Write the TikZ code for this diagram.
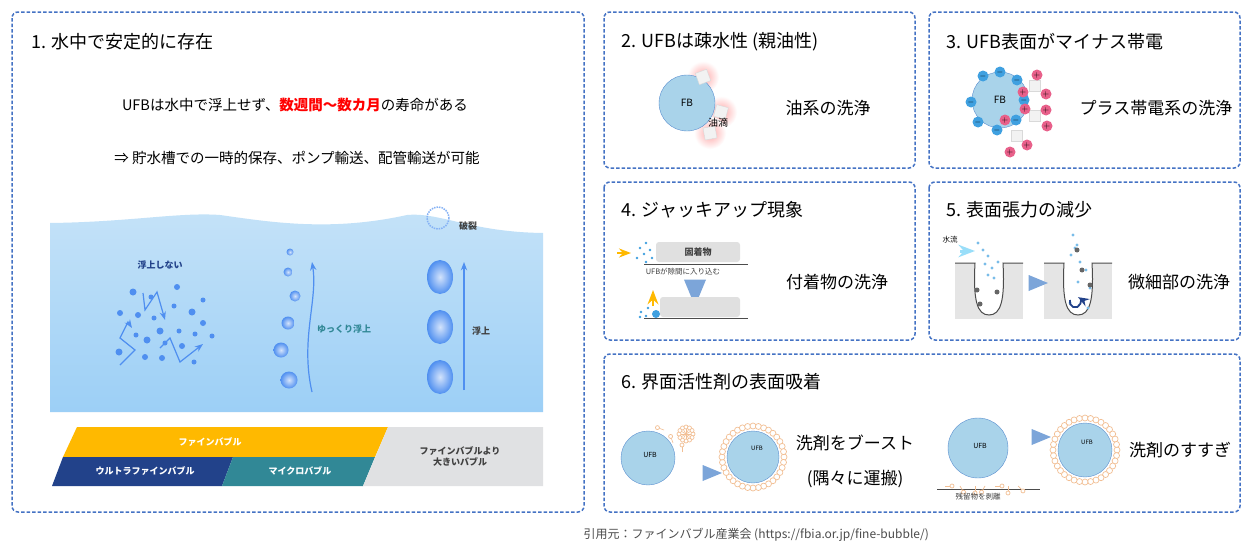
\documentclass[tikz,border=0pt]{standalone}
\usepackage{fontspec}
\setmainfont{Noto Sans CJK JP}
\usetikzlibrary{positioning,shapes.geometric,arrows.meta}
\definecolor{frameblue}{HTML}{4472C4}
\definecolor{fbblue}{HTML}{A9D3EA}
\definecolor{fbedge}{HTML}{5B8FD0}
\definecolor{surf}{HTML}{F2BF94}
\definecolor{minusc}{HTML}{3FA0E0}
\definecolor{plusc}{HTML}{E8608A}
\definecolor{barY}{HTML}{FFB900}
\definecolor{barN}{HTML}{22428A}
\definecolor{barT}{HTML}{318896}
\definecolor{barG}{HTML}{E0E1E3}
\definecolor{dropc}{HTML}{4F8FF0}
\definecolor{waterT}{HTML}{C4E2F8}
\definecolor{waterB}{HTML}{9CCFF6}
\tikzset{
  panel/.style={draw=frameblue, dash pattern=on 3.5pt off 2pt, line width=1.5pt, rounded corners=6pt},
  heading/.style={anchor=west, font=\fontsize{18}{20}\selectfont},
  effect/.style={font=\fontsize{17}{20}\selectfont},
  small/.style={font=\fontsize{9}{11}\selectfont\bfseries, text=black!75},
  fb/.style={circle, draw=fbedge, fill=fbblue, inner sep=0pt},
  ring/.style={draw=surf, fill=white, line width=0.7pt},
  nextstep/.style={isosceles triangle, fill=fbedge!80, inner sep=0pt, minimum width=16pt, minimum height=9pt},
  ufb/.style={inner color=dropc!25, outer color=dropc, circle, inner sep=0pt},
  charge/.style={circle, inner sep=0pt, minimum size=11pt, font=\fontsize{8}{8}\selectfont\bfseries}
}
\begin{document}
\begin{tikzpicture}[x=1pt, y=-1pt, >=Stealth]
\useasboundingbox (0,0) rectangle (1258,554);
\fill[white] (0,0) rectangle (1258,554);

% frames
\draw[panel] (12,12) rectangle (584,512);
\draw[panel] (604,12) rectangle (915,168);
\draw[panel] (929,12) rectangle (1240,168);
\draw[panel] (604,182) rectangle (915,340);
\draw[panel] (929,182) rectangle (1240,340);
\draw[panel] (604,354) rectangle (1240,512);

% headings
\node[heading] (h1) at (28,42) {1. 水中で安定的に存在};
\node[heading] (h2) at (618,42) {2. UFBは疎水性 (親油性)};
\node[heading] (h3) at (943,42) {3. UFB表面がマイナス帯電};
\node[heading] (h4) at (618,210) {4. ジャッキアップ現象};
\node[heading] (h5) at (943,210) {5. 表面張力の減少};
\node[heading] (h6) at (618,382) {6. 界面活性剤の表面吸着};

% panel 1 texts
\node[font=\fontsize{14.5}{16}\selectfont] (life) at (295,105)
  {UFBは水中で浮上せず、\textcolor{red}{\bfseries 数週間～数カ月}の寿命がある};
\node[font=\fontsize{14.5}{16}\selectfont] (use) at (297,158)
  {⇒ 貯水槽での一時的保存、ポンプ輸送、配管輸送が可能};

% water
\shade[top color=waterT, middle color=white, bottom color=waterB]
  (50,223) .. controls (130,222) and (180,212) .. (220,215)
  .. controls (270,222) and (330,232) .. (407,215)
  .. controls (440,212) and (470,232) .. (543,233) -- (543,412) -- (50,412) -- cycle;

% not rising
\node[small, text=barN] (stay) at (160,265) {浮上しない};
\foreach \p/\s in {{(133,292)}/3.5,{(151,297)}/2.5,{(177,287)}/3,{(203,300)}/2.5,{(120,313)}/3,{(138,315)}/3,{(154,318)}/2.5,{(174,306)}/2.5,{(192,312)}/3.5,{(203,323)}/3,{(160,331)}/3.5,{(136,335)}/2.5,{(147,340)}/3.5,{(179,331)}/2.5,{(195,334)}/2.5,{(212,336)}/2.5,{(119,352)}/3.5,{(145,357)}/3,{(162,358)}/3,{(182,346)}/3,{(194,362)}/2.5,{(165,343)}/2.5}
  \fill[dropc] \p circle (\s);
\draw[->, dropc, line width=1.2pt] (120,365) -- (135,350) -- (120,338) -- (128,322) -- (132,328);
\draw[->, dropc, line width=1.2pt] (143,293) -- (145,310) -- (157,292) -- (165,320);
\draw[->, dropc, line width=1.2pt] (160,348) -- (170,338) -- (180,362) -- (203,344);

% slow rise
\foreach \p/\s in {{(290,252)}/3.5,{(288,272)}/4.5,{(295,296)}/5.5,{(288,323)}/6.5,{(281,350)}/7.5,{(289,380)}/8.5}
  \node[ufb, minimum size=2*\s pt] at \p {};
\draw[->, dropc, line width=1.2pt] (312,392) .. controls (300,340) and (318,300) .. (312,262);
\node[small, text=barT] (slow) at (344,329) {ゆっくり浮上};

% rise
\foreach \y in {277,327,377}
  \node[ufb, ellipse, minimum width=26pt, minimum height=34pt] at (440,\y) {};
\draw[->, dropc, line width=1.2pt] (464,390) -- (464,262);
\node[small] (rise) at (481,331) {浮上};
\draw[dropc!70, densely dotted, line width=1.5pt] (438,218) circle (11);
\node[small] (burst) at (468,226) {破裂};

% size bars
\fill[barY] (77,427) -- (388,427) -- (375,457) -- (63,457) -- cycle;
\fill[barN] (63,457) -- (233,457) -- (222,486) -- (52,486) -- cycle;
\fill[barT] (233,457) -- (375,457) -- (363,486) -- (222,486) -- cycle;
\fill[barG] (388,427) -- (543,427) -- (543,486) -- (363,486) -- cycle;
\node[small, text=white] (fine) at (210,442) {ファインバブル};
\node[small, text=white] (ultra) at (145,471) {ウルトラファインバブル};
\node[small, text=white] (micro) at (300,471) {マイクロバブル};
\node[small, align=center] (large) at (460,456) {ファインバブルより\\大きいバブル};

% panel 2
\foreach \p in {(703,77),(721,112),(710,133)}
  \shade[inner color=red!35, outer color=white] \p circle (16);
\node[fb, minimum size=56pt] (fb2) at (687,103) {};
\node[font=\fontsize{10}{10}\selectfont] at (fb2.center) {FB};
\foreach \p/\a in {{(703,77)}/20,{(721,112)}/-15,{(710,133)}/10}
  \node[draw=black!15, fill=black!5, minimum size=12pt, rotate=\a] at \p {};
\node[font=\fontsize{10}{10}\selectfont] (drop) at (718,123) {油滴};
\node[effect] (oil) at (828,108) {油系の洗浄};

% panel 3
\node[fb, minimum size=56pt] (fb3) at (1000,100) {};
\node[font=\fontsize{10}{10}\selectfont] at (fb3.center) {FB};
\foreach \p in {(1035,86),(1035,116),(1017,136)}
  \node[draw=black!15, fill=black!5, minimum size=11pt] at \p {};
\foreach \p in {(983,76),(1000,72),(1017,80),(971,102),(978,122),(997,130),(1016,120),(1024,100)}
  \node[charge, fill=minusc] at \p {$-$};
\foreach \p in {(1037,75),(1023,92),(1046,94),(1025,109),(1046,110),(1005,120),(1047,126),(1027,145),(1010,152)}
  \node[charge, fill=plusc] at \p {$+$};
\node[effect] (plus) at (1156,108) {プラス帯電系の洗浄};

% panel 4
\node[fill=black!12, rounded corners=3pt, minimum width=84pt, minimum height=20pt, small] (stuck) at (698,252) {固着物};
\draw[black!70, line width=1pt] (644,264) -- (748,264);
\node[small, font=\fontsize{7.5}{8}\selectfont] (gap) at (683,272) {UFBが隙間に入り込む};
\draw[->, barY, line width=2pt] (617,253) -- (631,253);
\foreach \p in {(640,248),(646,243),(644,254),(650,250),(637,258),(652,258),(646,262)}
  \fill[minusc] \p circle (1.3);
\node[nextstep, shape border rotate=270, minimum width=22pt] (down) at (695,287) {};
\node[fill=black!12, rounded corners=3pt, minimum width=80pt, minimum height=20pt] (lifted) at (700,307) {};
\draw[black!70, line width=1pt] (644,318) -- (748,318);
\draw[->, barY, line width=2.5pt] (653,306) -- (653,290);
\fill[minusc] (656,314) circle (4);
\foreach \p in {(641,312),(646,316),(648,308),(640,317)}
  \fill[minusc] \p circle (1.3);
\node[effect] (stick) at (837,282) {付着物の洗浄};

% panel 5
\node[font=\fontsize{7.5}{8}\selectfont] (flow) at (950,240) {水流};
\foreach \x/\c in {955/0,1044/1}{
  \fill[black!10] (\x,263) rectangle ++(68,56);
  \fill[white] (\x+20,263) .. controls (\x+18,300) and (\x+22,315) .. (\x+34,315)
    .. controls (\x+46,315) and (\x+50,300) .. (\x+48,263) -- cycle;
  \draw[black!70, line width=1pt] (\x,263) -- (\x+20,263) .. controls (\x+18,300) and (\x+22,315) .. (\x+34,315)
    .. controls (\x+46,315) and (\x+50,300) .. (\x+48,263) -- (\x+68,263);
}
\draw[->, cyan!40, line width=3pt] (960,251) -- (975,251);
\foreach \p in {(978,243),(983,250),(988,256),(985,264),(992,268),(994,278),(988,275),(998,262)}
  \fill[minusc!70] \p circle (1.6);
\foreach \p in {(977,290),(997,292),(980,304)}
  \fill[black!60] \p circle (2.5);
\node[nextstep] (next5) at (1034,283) {};
\foreach \p in {(1073,235),(1077,245),(1071,255),(1080,262),(1086,270),(1078,282),(1090,288),(1083,300),(1070,303),(1088,308),(1075,248)}
  \fill[minusc!70] \p circle (1.6);
\foreach \p in {(1077,250),(1082,270),(1090,285)}
  \fill[black!60] \p circle (2.5);
\draw[->, barN, line width=1.8pt] (1070,300) arc (200:-60:5.5);
\node[effect] (fine5) at (1179,282) {微細部の洗浄};

% panel 6
\node[fb, minimum size=54pt] (u1) at (648,458) {};
\node[font=\fontsize{7}{7}\selectfont] at (650,455) {UFB};
\foreach \a in {0,30,...,330}
  \draw[surf, line width=0.6pt] (686,434) -- ++(\a:7) node[ring, circle, inner sep=0pt, minimum size=4pt] {};
\foreach \p/\a in {{(664,430)}/200,{(673,443)}/250,{(682,452)}/270}
  \draw[surf, line width=0.6pt] \p -- ++(\a:7) node[ring, circle, inner sep=0pt, minimum size=4pt] {};
\node[nextstep] (next6a) at (708,473) {};
\foreach \a in {0,10,...,350}
  \draw[ring] (753,457) ++(\a:31) circle (3);
\node[fb, minimum size=52pt] (u2) at (753,457) {};
\node[font=\fontsize{6}{6}\selectfont] at (757,448) {UFB};
\node[effect] (boost) at (855,443) {洗剤をブースト};
\node[effect] (carry) at (855,479) {(隅々に運搬)};
\node[fb, minimum size=60pt] (u3) at (978,448) {};
\node[font=\fontsize{7}{7}\selectfont] at (980,446) {UFB};
\draw[black!70, line width=1pt] (937,489) -- (1040,489);
\foreach \x/\a in {945/0,960/60,975/90,985/120,995/0,1008/90,1018/45}
  \draw[surf, line width=0.7pt] (\x,486) -- ++(\a:7) node[ring, circle, inner sep=0pt, minimum size=4pt] {};
\node[small, font=\fontsize{7.5}{8}\selectfont] (peel) at (978,497) {残留物を剥離};
\node[nextstep] (next6b) at (1037,437) {};
\foreach \a in {0,10,...,350}
  \draw[ring] (1085,450) ++(\a:32) circle (3);
\node[fb, minimum size=54pt] (u4) at (1085,450) {};
\node[font=\fontsize{6}{6}\selectfont] at (1087,442) {UFB};
\node[effect] (rinse) at (1180,450) {洗剤のすすぎ};

% source
\node[anchor=west, text=black!70, font=\fontsize{12}{14}\selectfont] (src) at (580,535)
  {引用元：ファインバブル産業会 (https://fbia.or.jp/fine-bubble/)};
\end{tikzpicture}
\end{document}
